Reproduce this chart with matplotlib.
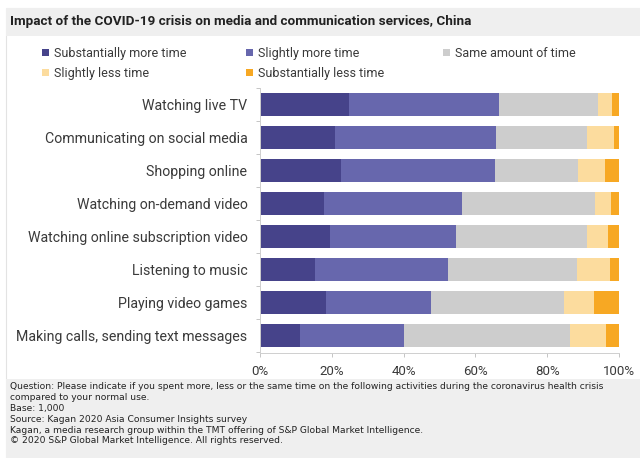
import numpy as np
import matplotlib.pyplot as plt
from matplotlib.patches import Rectangle

plt.rcParams['font.family'] = ['Roboto', 'DejaVu Sans']

activities = ["Watching live TV", "Communicating on social media", "Shopping online",
              "Watching on-demand video", "Watching online subscription video",
              "Listening to music", "Playing video games",
              "Making calls, sending text messages"]
series = ["Substantially more time", "Slightly more time", "Same amount of time",
          "Slightly less time", "Substantially less time"]
sub_more = [24.7, 20.9, 22.6, 17.8, 19.6, 15.3, 18.5, 11.1]
slight_more = [42.0, 44.8, 42.9, 38.4, 34.9, 37.2, 29.1, 29.0]
same = [27.5, 25.5, 23.2, 37.1, 36.7, 35.9, 37.1, 46.3]
slight_less = [3.8, 7.5, 7.4, 4.5, 5.8, 9.1, 8.4, 10.0]
sub_less = [2.0, 1.3, 3.9, 2.2, 3.0, 2.5, 6.9, 3.6]
colors = ["#46438a", "#6767ad", "#cdcdcd", "#fcdc9e", "#f7a823"]

fig = plt.figure(figsize=(6.4, 4.58), dpi=100)
W, H = 640, 458

# background panels
fig.patches.append(Rectangle((6 / W, 0), 1, 1 - 8 / H, transform=fig.transFigure,
                             facecolor="white", edgecolor="#e3e3e3", lw=0.8, zorder=-3))
fig.patches.append(Rectangle((6 / W, 1 - 36 / H), 1, 28 / H, transform=fig.transFigure,
                             facecolor="#efefef", edgecolor="none", zorder=-2))
fig.patches.append(Rectangle((6 / W, 0), 1, 1 - 379 / H, transform=fig.transFigure,
                             facecolor="#efefef", edgecolor="none", zorder=-2))

fig.text(10 / W, 1 - 21 / H, "Impact of the COVID-19 crisis on media and communication services, China",
         fontsize=9.7, fontweight="bold", color="#222222", va="center")

ax = fig.add_axes([260 / W, 1 - 352.7 / H, 359 / W, (352.7 - 88) / H])
y = np.arange(len(activities))
data = [sub_more, slight_more, same, slight_less, sub_less]
left = np.zeros(len(activities))
bars = []
for vals, c, name in zip(data, colors, series):
    b = ax.barh(y, vals, left=left, height=0.67, color=c, label=name)
    bars.append(b)
    left += np.array(vals)

ax.set_xlim(0, 100)
ax.set_ylim(7.52, -0.5)
ax.set_xticks(np.arange(0, 101, 20))
ax.set_xticklabels([f"{v}%" for v in range(0, 101, 20)])
ax.set_yticks(y)
ax.set_yticklabels(activities)
ax.set_yticks(np.arange(-0.5, 7.6, 1), minor=True)
ax.tick_params(axis="y", which="major", length=0, pad=9, labelsize=10.2, labelcolor="#3a3a3a")
ax.tick_params(axis="y", which="minor", length=3, color="#bbbbbb", width=0.6)
ax.tick_params(axis="x", length=3, color="#bbbbbb", width=0.6, labelsize=9.5,
               labelcolor="#3a3a3a", pad=6)
for s in ["top", "right"]:
    ax.spines[s].set_visible(False)
for s in ["left", "bottom"]:
    ax.spines[s].set_color("#cfcfcf")
    ax.spines[s].set_linewidth(0.7)

order = [0, 3, 1, 4, 2]
leg = fig.legend([bars[i] for i in order], [series[i] for i in order], ncol=3,
                 loc="upper left", bbox_to_anchor=(42 / W, 1 - 47 / H), frameon=False,
                 fontsize=9, handlelength=0.55, handleheight=0.55, handletextpad=0.4,
                 columnspacing=4.75, labelspacing=0.55, borderpad=0, borderaxespad=0)
for t in leg.get_texts():
    t.set_color("#3a3a3a")

footer = ("Question: Please indicate if you spent more, less or the same time on the following activities during the coronavirus health crisis\n"
          "compared to your normal use.\n"
          "Base: 1,000\n"
          "Source: Kagan 2020 Asia Consumer Insights survey\n"
          "Kagan, a media research group within the TMT offering of S&P Global Market Intelligence.\n"
          "\u00a9 2020 S&P Global Market Intelligence. All rights reserved.")
fig.text(10 / W, 1 - 382 / H, footer, fontsize=6.6, color="#222222", va="top",
         linespacing=1.27, family=["Liberation Sans Narrow", "DejaVu Sans"])

fig.savefig("out.png", dpi=100)
